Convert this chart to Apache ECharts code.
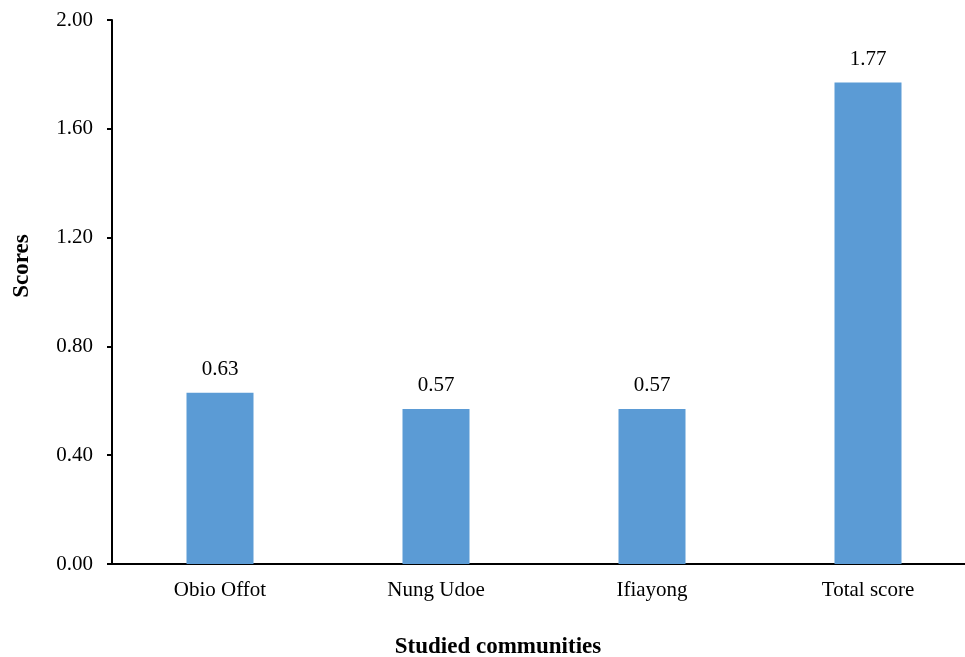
<!DOCTYPE html>
<html>
<head>
<meta charset="utf-8">
<script src="https://cdn.jsdelivr.net/npm/echarts@6/dist/echarts.min.js"></script>
<style>
  html, body { margin: 0; padding: 0; background: #fff; }
  #chart { width: 965px; height: 657px; }
</style>
</head>
<body>
<div id="chart"></div>
<script>
// Scores per studied community
const categories = ['Obio Offot', 'Nung Udoe', 'Ifiayong', 'Total score'];
const scores = [0.63, 0.57, 0.57, 1.77];

const font = '"Liberation Serif", "Times New Roman", serif';

const chart = echarts.init(document.getElementById('chart'), null, { renderer: 'canvas' });
chart.setOption({
  animation: false,
  grid: { left: 112, right: -11, top: 20, bottom: 93, containLabel: false, outerBoundsMode: 'none' },
  xAxis: {
    type: 'category',
    data: categories,
    name: 'Studied communities',
    nameLocation: 'middle',
    nameGap: 72,
    nameTextStyle: { fontFamily: font, fontSize: 23, fontWeight: 'bold', color: '#000', padding: [0, 92, 0, 0] },
    axisLine: { lineStyle: { color: '#000', width: 2 } },
    axisTick: { show: false },
    axisLabel: { fontFamily: font, fontSize: 21, color: '#000', margin: 16 }
  },
  yAxis: {
    type: 'value',
    min: 0,
    max: 2,
    interval: 0.4,
    name: 'Scores',
    nameLocation: 'middle',
    nameGap: 78,
    nameTextStyle: { fontFamily: font, fontSize: 23, fontWeight: 'bold', color: '#000', padding: [0, 0, 0, 52] },
    axisLine: { show: true, lineStyle: { color: '#000', width: 2 } },
    axisTick: { show: true, length: 5, lineStyle: { color: '#000', width: 2 } },
    splitLine: { show: false },
    axisLabel: {
      fontFamily: font, fontSize: 21, color: '#000', margin: 19,
      formatter: v => v.toFixed(2)
    }
  },
  series: [{
    type: 'bar',
    data: scores,
    barWidth: 67,
    itemStyle: { color: '#5B9BD5' },
    label: {
      show: true,
      position: 'top',
      distance: 13,
      fontFamily: font,
      fontSize: 21,
      color: '#000',
      formatter: p => p.value.toFixed(2)
    }
  }]
});
</script>
</body>
</html>
